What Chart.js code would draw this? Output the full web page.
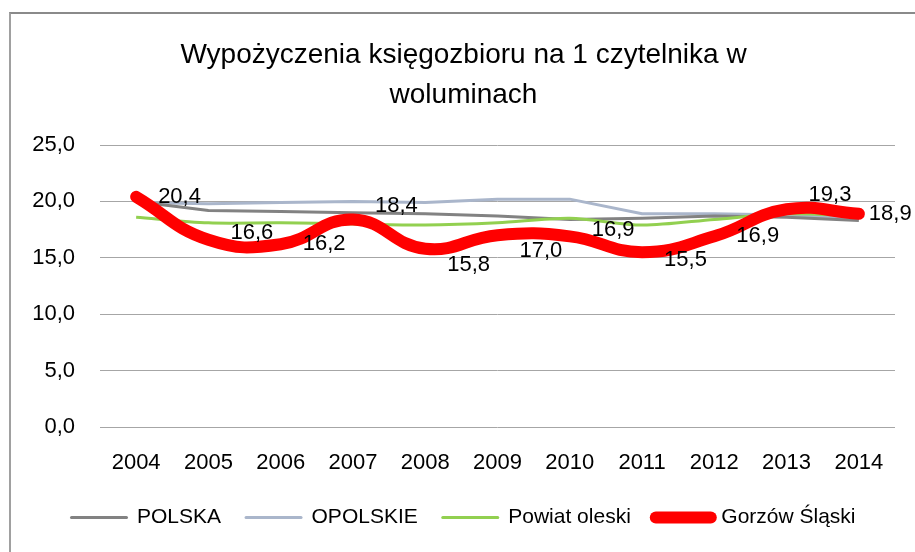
<!DOCTYPE html>
<html>
<head>
<meta charset="utf-8">
<script src="https://cdn.jsdelivr.net/npm/chart.js@4/dist/chart.umd.min.js"></script>
<style>
    html, body { margin: 0; padding: 0; background: #fff; }
    #frame {
        position: absolute; left: 9px; top: 12px; width: 920px; height: 560px;
        border-left: 2px solid #a0a0a0; border-top: 2px solid #8a8a8a;
    }
    #wrap { position: absolute; left: 0; top: 0; width: 915px; height: 552px; }
</style>
</head>
<body>
<div id="frame"></div>
<div id="wrap"><canvas id="chart" width="915" height="552"></canvas></div>
<script>
const years = ['2004', '2005', '2006', '2007', '2008', '2009', '2010', '2011', '2012', '2013', '2014'];
const polska = [20.0, 19.2, 19.1, 19.0, 18.9, 18.7, 18.4, 18.5, 18.7, 18.6, 18.3];
const opolskie = [19.9, 19.8, 19.9, 20.0, 19.9, 20.2, 20.2, 18.9, 18.9, 18.8, 18.5];
const powiatOleski = [18.6, 18.1, 18.1, 18.0, 17.9, 18.1, 18.5, 17.9, 18.4, 18.9, 18.7];
const gorzow = [20.4, 16.6, 16.2, 18.4, 15.8, 17.0, 16.9, 15.5, 16.9, 19.3, 18.9];

// label nudges (px) for the red series
const labelDy = [0, -7, 0, -14, 16, 16, -6, 8, 0, -14, 0];

const font = "'Liberation Sans', Arial, sans-serif";

const redLabels = {
    id: 'redLabels',
    afterDatasetsDraw(chart) {
        const meta = chart.getDatasetMeta(3);
        const ctx = chart.ctx;
        ctx.save();
        ctx.font = '22px ' + font;
        ctx.fillStyle = '#000';
        ctx.textAlign = 'left';
        ctx.textBaseline = 'middle';
        meta.data.forEach((pt, i) => {
            const txt = gorzow[i].toFixed(1).replace('.', ',');
            const dx = i === gorzow.length - 1 ? 10 : 22;
            ctx.fillText(txt, pt.x + dx, pt.y + labelDy[i]);
        });
        ctx.restore();
    }
};

new Chart(document.getElementById('chart'), {
    type: 'line',
    data: {
        labels: years,
        datasets: [
            {
                label: 'POLSKA',
                data: polska,
                borderColor: '#828282',
                backgroundColor: '#828282',
                borderWidth: 3,
                tension: 0,
                order: 2
            },
            {
                label: 'OPOLSKIE',
                data: opolskie,
                borderColor: '#aab6cb',
                backgroundColor: '#aab6cb',
                borderWidth: 3,
                tension: 0,
                order: 3
            },
            {
                label: 'Powiat oleski',
                data: powiatOleski,
                borderColor: '#92d050',
                backgroundColor: '#92d050',
                borderWidth: 3,
                tension: 0.3,
                order: 1
            },
            {
                label: 'Gorzów Śląski',
                data: gorzow,
                borderColor: '#ff0000',
                backgroundColor: '#ff0000',
                borderWidth: 12,
                borderCapStyle: 'round',
                borderJoinStyle: 'round',
                tension: 0.45,
                order: 0
            }
        ]
    },
    options: {
        responsive: false,
        animation: false,
        events: [],
        elements: { point: { radius: 0 } },
        layout: { padding: { left: 32, right: 20, top: 0, bottom: 14 } },
        plugins: {
            title: {
                display: true,
                text: ['Wypożyczenia księgozbioru na 1 czytelnika w', 'woluminach'],
                color: '#000',
                font: { family: font, size: 28, weight: 'normal', lineHeight: 40 / 28 },
                padding: { top: 35, bottom: 30 }
            },
            legend: {
                position: 'bottom',
                labels: {
                    color: '#000',
                    font: { family: font, size: 21 },
                    usePointStyle: true,
                    pointStyle: 'line',
                    pointStyleWidth: 55,
                    padding: 25,
                    sort: (a, b) => a.datasetIndex - b.datasetIndex,
                    generateLabels(chart) {
                        const items = Chart.defaults.plugins.legend.labels.generateLabels(chart);
                        items.forEach(it => { it.lineCap = 'round'; });
                        return items;
                    }
                }
            },
            tooltip: { enabled: false }
        },
        scales: {
            x: {
                offset: true,
                grid: { display: false, drawTicks: false },
                border: { display: false },
                ticks: { color: '#000', font: { family: font, size: 22, lineHeight: 1 }, padding: 25, maxRotation: 0 },
                afterFit(scale) { scale.height = 55; }
            },
            y: {
                min: 0,
                max: 25,
                ticks: {
                    stepSize: 5,
                    color: '#000',
                    font: { family: font, size: 22 },
                    padding: 25,
                    callback: v => v.toFixed(1).replace('.', ',')
                },
                grid: { color: '#a6a6a6', lineWidth: 1, drawTicks: false },
                border: { display: false },
                afterFit(scale) { scale.width = 68; }
            }
        }
    },
    plugins: [redLabels]
});
</script>
</body>
</html>
